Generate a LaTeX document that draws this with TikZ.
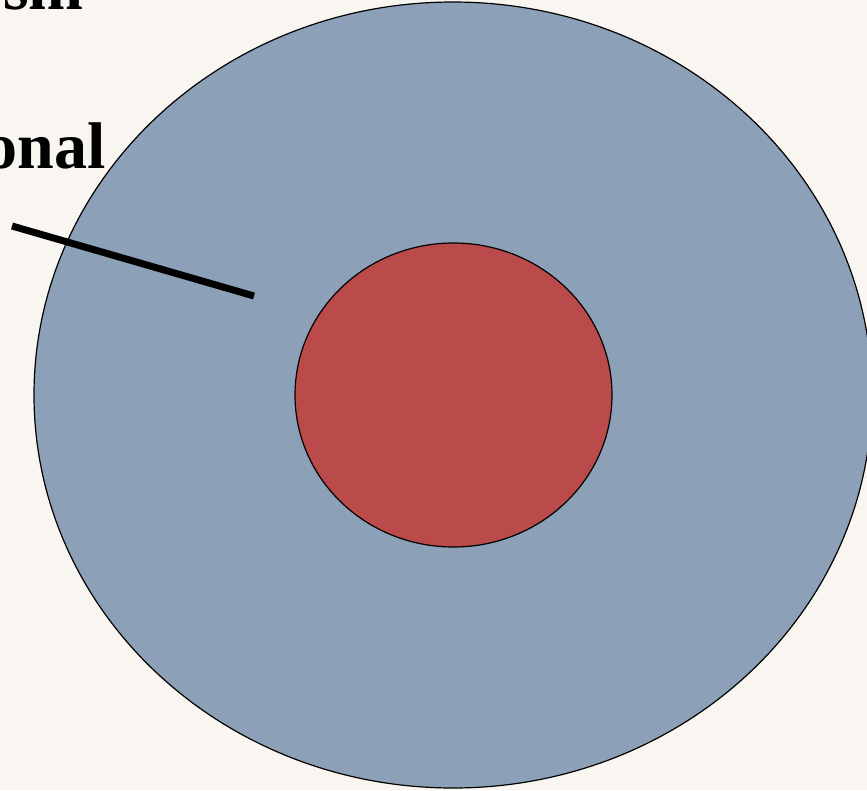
\documentclass[tikz,border=0pt]{standalone}
\usepackage{fontspec}
\setmainfont{Liberation Serif}
\definecolor{bgc}{HTML}{F9F5F1}
\definecolor{bluec}{HTML}{8CA1B8}
\definecolor{redc}{HTML}{BB4A4B}
\tikzset{
  lbl/.style={font=\fontsize{66}{66}\selectfont\bfseries, inner sep=0pt, anchor=base east, text=black},
  ring/.style={draw=black, line width=1.2pt}
}
\begin{document}
\begin{tikzpicture}[x=1pt,y=-1pt]
\useasboundingbox (0,0) rectangle (867,790);
\clip (0,0) rectangle (867,790);
\fill[bgc] (0,0) rectangle (867,790);
\node[lbl] (t1) at (84,9) {sm};
\node[lbl] (t2) at (106,168) {onal};
\path[ring, fill=bluec] (453,395) ellipse [x radius=419, y radius=393];
\path[ring, fill=redc] (453.5,395) ellipse [x radius=158.5, y radius=152];
\coordinate (p1) at (12,226);
\coordinate (p2) at (254,296);
\draw[line width=7pt] (p1) -- (p2);
\end{tikzpicture}
\end{document}
